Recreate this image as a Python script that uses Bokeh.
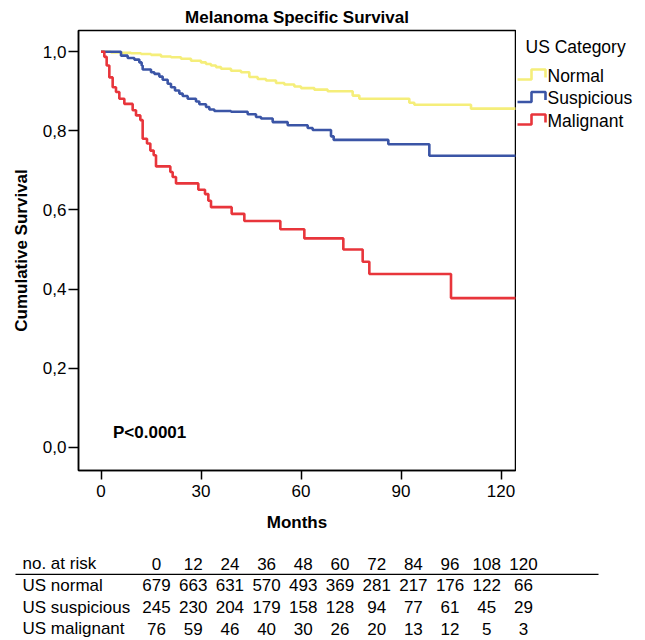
from bokeh.plotting import figure
from bokeh.layouts import column, row
from bokeh.models import Range1d, FixedTicker, CustomJSTickFormatter, Label
from bokeh.embed import file_html
from bokeh.resources import INLINE
from bokeh.core.properties import value

FONT = "Liberation Sans"

# ---------------- data ----------------
normal_t = [0, 3, 6, 9, 12, 15, 18, 21, 24, 27, 30, 31.5, 33, 34.5, 36, 39, 42, 44.5,
            47, 49.5, 52.5, 55, 58, 60, 64, 68, 75.5, 77.5, 92.5, 94, 111, 124.5]
normal_s = [1.0, 0.998, 0.997, 0.996, 0.994, 0.992, 0.988, 0.986, 0.982, 0.977, 0.973,
            0.969, 0.965, 0.961, 0.957, 0.952, 0.948, 0.936, 0.931, 0.927, 0.921, 0.917,
            0.912, 0.908, 0.904, 0.900, 0.889, 0.881, 0.871, 0.866, 0.856, 0.856]

suspicious_t = [0, 6, 8, 10, 11.5, 12.2, 12.5, 15, 16, 17.5, 18.5, 20, 21, 22.2, 23.5,
                24.5, 26, 28.5, 29.5, 31.5, 32.5, 34, 39, 44, 46.5, 48, 51.5, 56, 62,
                63.5, 69, 69.8, 86.2, 98.5, 124.5]
suspicious_s = [1.0, 0.990, 0.984, 0.980, 0.973, 0.965, 0.955, 0.948, 0.944, 0.937,
                0.929, 0.919, 0.910, 0.902, 0.894, 0.888, 0.881, 0.874, 0.867, 0.860,
                0.854, 0.850, 0.848, 0.842, 0.835, 0.831, 0.822, 0.814, 0.807, 0.802,
                0.786, 0.777, 0.766, 0.737, 0.737]

malignant_t = [0, 1.0, 1.7, 2.5, 3.5, 4.5, 5.5, 7, 9.5, 10.5, 11.8, 12.5, 13.8, 14.8,
               15.8, 16.5, 20.8, 21.5, 22.5, 29.2, 31.2, 32.2, 33, 39.2, 43, 53.8, 61,
               72.7, 78.5, 80.5, 105, 124.5]
malignant_s = [1.0, 0.987, 0.965, 0.935, 0.910, 0.898, 0.881, 0.868, 0.852, 0.839,
               0.827, 0.780, 0.768, 0.750, 0.738, 0.710, 0.696, 0.683, 0.667, 0.651,
               0.640, 0.623, 0.607, 0.590, 0.572, 0.551, 0.528, 0.500, 0.469, 0.438,
               0.377, 0.377]

group_names = ["Normal", "Suspicious", "Malignant"]
group_colors = ["#F5EE7A", "#3B55A6", "#E8353B"]

x_ticks = [0, 30, 60, 90, 120]
y_ticks = [0.0, 0.2, 0.4, 0.6, 0.8, 1.0]

risk_months = [0, 12, 24, 36, 48, 60, 72, 84, 96, 108, 120]
risk_labels = ["US normal", "US suspicious", "US malignant"]
risk_normal = [679, 663, 631, 570, 493, 369, 281, 217, 176, 122, 66]
risk_suspicious = [245, 230, 204, 179, 158, 128, 94, 77, 61, 45, 29]
risk_malignant = [76, 59, 46, 40, 30, 26, 20, 13, 12, 5, 3]

# ---------------- main survival plot ----------------
MAIN_W = 516
MAIN_H = 548
FR_TOP, FR_BOT = 30, 470
p = figure(frame_width=437, frame_height=FR_BOT - FR_TOP,
           min_border_left=78, min_border_right=1, min_border_top=FR_TOP,
           min_border_bottom=MAIN_H - FR_BOT,
           x_range=Range1d(-6.75, 124.35), y_range=Range1d(-0.0589, 1.0536),
           output_backend="svg", toolbar_location=None,
           title="Melanoma Specific Survival")
p.title.align = "center"
p.title.text_font = FONT
p.title.text_font_size = "17px"
p.title.text_font_style = "bold"
p.title.text_color = "black"
p.title.standoff = 8
p.title.offset = 0

p.grid.visible = False
p.outline_line_color = "black"
p.outline_line_width = 1.5
p.background_fill_color = "white"
p.border_fill_color = "white"

for ax in (p.xaxis[0], p.yaxis[0]):
    ax.axis_line_color = "black"
    ax.axis_line_width = 1.5
    ax.major_tick_line_color = "black"
    ax.major_tick_line_width = 1.5
    ax.major_tick_in = 0
    ax.minor_tick_line_color = None
    ax.major_label_text_font = FONT
    ax.major_label_text_font_size = "17px"
    ax.major_label_text_color = "black"
    ax.axis_label_text_font = FONT
    ax.axis_label_text_font_size = "17px"
    ax.axis_label_text_font_style = "bold"
    ax.axis_label_text_color = "black"

p.xaxis.ticker = FixedTicker(ticks=x_ticks)
p.yaxis.ticker = FixedTicker(ticks=y_ticks)
p.yaxis.formatter = CustomJSTickFormatter(code="return tick.toFixed(1).replace('.', ',');")
p.xaxis.major_tick_out = 9
p.yaxis.major_tick_out = 10
p.xaxis.major_label_standoff = 5
p.yaxis.major_label_standoff = 2
p.xaxis.axis_label = "Months"
p.yaxis.axis_label = "Cumulative Survival"
p.xaxis.axis_label_standoff = 13
p.yaxis.axis_label_standoff = 9

series = [(normal_t, normal_s), (suspicious_t, suspicious_s), (malignant_t, malignant_s)]
for (t, s), c in zip(series, group_colors):
    p.step(t, s, mode="after", line_color=c, line_width=2.6)

p.text(x=[3.6], y=[0.037], text=["P<0.0001"], text_font=value(FONT),
       text_font_size="17px", text_font_style="bold", text_color="black",
       text_align="left", text_baseline="middle")

# ---------------- legend panel (page-pixel coordinates) ----------------
# Its frame is aligned with the main frame by the row layout (top 30, bottom 470).
LG_W = 125
lg = figure(width=LG_W, height=MAIN_H, x_range=Range1d(MAIN_W, MAIN_W + LG_W),
            y_range=Range1d(FR_BOT, FR_TOP),
            min_border=0, x_axis_location=None, y_axis_location=None,
            output_backend="svg", toolbar_location=None)
lg.grid.visible = False
lg.outline_line_color = None
lg.background_fill_color = "white"
lg.border_fill_color = "white"

lg.text(x=[525], y=[46], text=["US Category"], text_font=value(FONT),
        text_font_size="17.5px", text_color="black", text_align="left", text_baseline="middle")
icon_dx = [0, 14, 14, 28, 28]
icon_dy = [4, 4, -6, -6, 2]
entry_y0 = 75
entry_gap = 22.5
for i, (name, c) in enumerate(zip(group_names, group_colors)):
    yc = entry_y0 + i * entry_gap
    lg.line([517 + dx for dx in icon_dx], [yc + dy for dy in icon_dy],
            line_color=c, line_width=2.6)
    lg.text(x=[547], y=[yc], text=[name], text_font=value(FONT), text_font_size="17.5px",
            text_color="black", text_align="left", text_baseline="middle")

# ---------------- number-at-risk table ----------------
px_per_month = 3.058
x0_px = 156
tb_w = MAIN_W + LG_W
TB_H = 92
row_top = 15        # local y of the header row
row_gap = 21.8
tb = figure(width=tb_w, height=TB_H,
            x_range=Range1d(-x0_px / px_per_month, (tb_w - x0_px) / px_per_month),
            y_range=Range1d((TB_H - row_top) / row_gap, -row_top / row_gap),
            min_border=0, x_axis_location=None, y_axis_location=None,
            output_backend="svg", toolbar_location=None)
tb.grid.visible = False
tb.outline_line_color = None
tb.background_fill_color = "white"
tb.border_fill_color = "white"

TFS = "17px"
tb.text(x=risk_months, y=[0] * len(risk_months), text=[str(m) for m in risk_months],
        text_font=value(FONT), text_font_size=TFS, text_color="black",
        text_align="center", text_baseline="middle")
for i, vals in enumerate([risk_normal, risk_suspicious, risk_malignant]):
    tb.text(x=risk_months, y=[i + 1] * len(risk_months), text=[str(v) for v in vals],
            text_font=value(FONT), text_font_size=TFS, text_color="black",
            text_align="center", text_baseline="middle")
for i, lab in enumerate(["no. at risk"] + risk_labels):
    tb.add_layout(Label(x=22, y=i, x_units="screen", y_units="data", text=lab,
                        text_font=FONT, text_font_size=TFS, text_color="black",
                        text_align="left", text_baseline="middle"))
tb.segment(x0=[(15 - x0_px) / px_per_month], y0=[0.5], x1=[(598 - x0_px) / px_per_month],
           y1=[0.5], line_color="black", line_width=1.2)

layout = column(row(p, lg), tb)
open("out.html", "w").write(file_html(layout, INLINE))
